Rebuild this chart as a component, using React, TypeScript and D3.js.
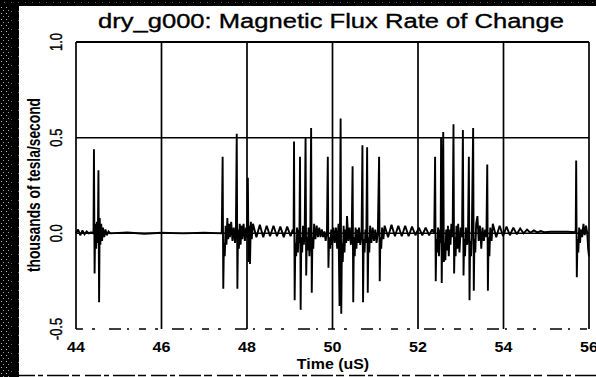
import React from "react";
import * as d3 from "d3";

const chartTitle = "dry_g000: Magnetic Flux Rate of Change";
const xLabel = "Time (uS)";
const yLabel = "thousands of tesla/second";
const xTicks = [44, 46, 48, 50, 52, 54, 56];
const yTicks = [-0.5, 0.0, 0.5, 1.0];
const yTickLabels = ["-0.5", "0.0", "0.5", "1.0"];

// [time (uS), value (thousands of tesla/second)]
const seg1: [number, number][] = [
  [44.0, 0.0], [44.05, 0.02], [44.1, -0.01], [44.15, 0.015], [44.2, -0.005], [44.25, 0.01], [44.3, 0.0], [44.35, 0.005], [44.4, 0.0],
  [44.41, 0.02], [44.42, 0.44], [44.435, -0.21], [44.45, 0.05], [44.47, -0.08], [44.49, 0.06], [44.51, -0.05], [44.525, 0.33], [44.54, -0.36],
  [44.555, 0.08], [44.57, -0.06], [44.59, 0.05], [44.61, -0.04], [44.63, 0.03], [44.66, -0.02], [44.69, 0.02], [44.72, -0.01], [44.76, 0.01], [44.8, 0.0],
  [45.2, 0.004], [45.6, -0.002], [46.0, 0.003], [46.5, 0.0], [47.0, 0.003], [47.4, 0.0],
];
const seg2: [number, number][] = [
  [47.41, 0.01], [47.43, 0.4], [47.445, -0.29], [47.46, -0.05], [47.48, -0.12], [47.5, 0.04], [47.52, -0.06], [47.54, 0.08], [47.56, -0.03],
  [47.58, 0.05], [47.6, -0.02], [47.63, 0.06], [47.66, -0.04], [47.69, 0.03], [47.72, -0.05], [47.74, 0.02], [47.76, 0.52], [47.775, -0.29],
  [47.79, 0.02], [47.81, -0.08], [47.83, 0.05], [47.85, -0.06], [47.87, 0.04], [47.89, -0.03], [47.92, 0.05], [47.95, -0.04], [47.98, 0.03],
  [48.0, -0.02], [48.02, 0.29], [48.035, -0.15], [48.05, 0.04], [48.07, -0.16], [48.09, 0.06], [48.11, -0.03], [48.14, 0.05],
  [48.22, -0.02], [48.3, 0.045], [48.38, -0.02], [48.46, 0.04], [48.54, -0.015], [48.62, 0.04], [48.7, -0.015], [48.78, 0.035], [48.86, -0.02],
  [48.94, 0.035], [49.02, -0.015], [49.07, 0.02],
];
const seg3: [number, number][] = [
  [49.09, 0.0], [49.1, 0.48], [49.115, -0.35], [49.13, -0.05], [49.15, -0.12], [49.17, 0.03], [49.19, -0.1], [49.21, 0.02], [49.225, -0.05],
  [49.24, 0.4], [49.255, -0.4], [49.27, -0.02], [49.29, -0.1], [49.31, 0.04], [49.33, -0.06], [49.35, 0.02], [49.37, 0.5], [49.385, -0.22],
  [49.4, -0.02], [49.42, -0.09], [49.44, 0.03], [49.46, -0.12], [49.48, 0.0], [49.5, 0.55], [49.515, -0.31], [49.53, -0.02], [49.55, -0.08],
  [49.57, 0.05], [49.6, -0.03], [49.63, 0.04], [49.66, -0.02], [49.69, 0.03], [49.72, -0.02], [49.75, 0.02], [49.78, -0.02], [49.81, 0.01],
  [49.84, -0.04], [49.87, 0.01], [49.89, 0.4], [49.905, -0.18], [49.92, -0.02], [49.95, -0.08], [49.97, 0.02], [49.99, -0.06], [50.02, 0.03],
  [50.05, -0.05], [50.08, 0.03], [50.11, -0.08], [50.14, 0.05], [50.165, -0.38], [50.175, 0.02], [50.19, 0.6], [50.205, -0.42], [50.22, -0.05],
  [50.24, -0.15], [50.26, 0.04], [50.28, -0.1], [50.3, 0.02], [50.32, -0.05], [50.34, 0.09], [50.37, -0.04], [50.4, 0.03], [50.43, -0.06],
  [50.45, 0.01], [50.47, 0.35], [50.485, -0.36], [50.5, -0.02], [50.52, -0.12], [50.54, 0.03], [50.56, -0.08], [50.58, 0.02], [50.6, -0.05],
  [50.62, 0.03], [50.65, -0.06], [50.68, 0.0], [50.7, 0.46], [50.715, -0.36], [50.73, -0.03], [50.75, -0.1], [50.77, 0.02], [50.79, -0.05],
  [50.81, 0.45], [50.825, -0.31], [50.84, -0.02], [50.86, -0.1], [50.88, 0.04], [50.91, -0.05], [50.94, 0.03], [50.97, -0.04], [51.0, 0.02],
  [51.03, -0.05], [51.06, 0.0], [51.09, 0.4], [51.105, -0.25], [51.12, -0.02], [51.14, -0.08], [51.16, 0.03], [51.19, -0.03], [51.22, 0.04],
  [51.3, -0.02], [51.38, 0.045], [51.46, -0.015], [51.54, 0.04], [51.62, -0.015], [51.7, 0.04], [51.78, -0.015], [51.86, 0.035], [51.94, -0.01],
  [52.02, 0.03], [52.1, -0.01], [52.18, 0.03], [52.26, -0.01], [52.33, 0.02], [52.38, 0.0],
];
const seg4: [number, number][] = [
  [52.4, 0.4], [52.415, -0.25], [52.43, -0.03], [52.45, -0.1], [52.47, 0.03], [52.49, -0.12], [52.51, 0.02], [52.53, -0.05], [52.54, 0.5],
  [52.555, -0.26], [52.57, 0.05], [52.59, 0.53], [52.605, -0.15], [52.62, -0.05], [52.64, -0.14], [52.66, 0.02], [52.68, -0.09], [52.7, 0.04],
  [52.72, -0.12], [52.74, 0.02], [52.76, -0.06], [52.78, 0.05], [52.81, -0.02], [52.83, 0.57], [52.845, -0.21], [52.86, -0.02], [52.88, -0.12],
  [52.9, 0.04], [52.92, -0.08], [52.94, 0.05], [52.97, -0.1], [53.0, 0.03], [53.03, -0.02], [53.05, 0.54], [53.065, -0.22], [53.08, -0.03],
  [53.1, -0.12], [53.12, 0.03], [53.15, -0.06], [53.17, 0.01], [53.19, 0.4], [53.205, -0.35], [53.22, -0.04], [53.24, -0.12], [53.26, 0.02],
  [53.29, 0.55], [53.305, -0.3], [53.32, -0.03], [53.34, -0.1], [53.36, 0.05], [53.39, 0.09], [53.42, -0.04], [53.45, 0.04], [53.48, -0.08],
  [53.51, 0.03], [53.54, -0.04], [53.57, 0.02], [53.6, -0.02], [53.62, 0.36], [53.635, -0.3], [53.65, -0.02], [53.67, -0.12], [53.69, 0.03],
  [53.72, -0.04], [53.75, 0.05],
  [53.83, -0.02], [53.91, 0.04], [53.99, -0.015], [54.07, 0.035], [54.15, -0.01], [54.23, 0.03], [54.31, -0.005], [54.39, 0.025], [54.47, 0.0],
  [54.55, 0.02], [54.63, 0.003], [54.71, 0.015], [54.79, 0.005], [54.87, 0.012], [54.95, 0.006], [55.1, 0.008], [55.3, 0.008], [55.5, 0.008],
  [55.68, 0.006],
];
const seg5: [number, number][] = [
  [55.69, 0.02], [55.7, 0.38], [55.715, -0.23], [55.73, -0.03], [55.75, -0.1], [55.77, 0.03], [55.79, -0.05], [55.81, 0.02], [55.84, -0.02],
  [55.87, 0.05], [55.9, -0.01], [55.93, 0.04], [55.96, 0.0], [55.98, -0.08], [56.0, -0.12],
];
const fluxTrace = [...seg1, ...seg2, ...seg3, ...seg4, ...seg5];

export default function App() {
  const W = 596, H = 377;
  const L = 76, R = 589, T = 42, B = 329;
  const x = d3.scaleLinear().domain([44, 56]).range([L, R]);
  const y = d3.scaleLinear().domain([-0.5, 1.0]).range([B, T]);
  const line = d3.line<[number, number]>().x((d) => x(d[0])).y((d) => y(d[1]));
  const font = "'Liberation Sans', Arial, Helvetica, sans-serif";

  return (
    <svg width={W} height={H} style={{ position: "absolute", left: 0, top: 0, background: "#fff" }} fontFamily={font}>
      <defs>
        <pattern id="speck" width="5" height="6" patternUnits="userSpaceOnUse">
          <rect width="5" height="6" fill="#000" />
          <rect x="1" y="1" width="1" height="1" fill="#bbb" />
          <rect x="3" y="4" width="1" height="1" fill="#999" />
        </pattern>
        <pattern id="speck2" width="7" height="9" patternUnits="userSpaceOnUse">
          <rect width="7" height="9" fill="#000" />
          <rect x="4" y="2" width="1" height="1" fill="#666" />
        </pattern>
      </defs>
      <rect x={0} y={0} width={W} height={H} fill="#fff" />
      {/* scanned frame */}
      <rect x={0} y={0} width={10} height={H} fill="url(#speck)" />
      <rect x={10} y={0} width={9} height={H} fill="url(#speck2)" />
      <rect x={0} y={0} width={W} height={6} fill="url(#speck2)" />
      <line x1={19} x2={W} y1={375.5} y2={375.5} stroke="#000" strokeWidth={1.5} strokeDasharray="16 3 5 4 22 3 8 5" />

      {/* title */}
      <text x={331} y={28} textAnchor="middle" fontSize={20} textLength={466} lengthAdjust="spacingAndGlyphs" fill="#000" stroke="#000" strokeWidth={0.35}>
        {chartTitle}
      </text>

      {/* grid */}
      {xTicks.map((t) => (
        <line key={"vx" + t} x1={x(t)} x2={x(t)} y1={T} y2={B} stroke="#000" strokeWidth={1.7} />
      ))}
      {yTicks.filter((v) => v > -0.5).map((v) => (
        <line key={"hy" + v} x1={L} x2={R} y1={y(v)} y2={y(v)} stroke="#000" strokeWidth={v === 1 ? 1.9 : 1.5} />
      ))}
      <line x1={L} x2={R} y1={y(-0.5)} y2={y(-0.5)} stroke="#000" strokeWidth={1.4} strokeDasharray="7 9 3 14 12 6 2 10" />

      {/* trace */}
      <path d={line(fluxTrace) || ""} fill="none" stroke="#000" strokeWidth={1.9} strokeLinejoin="miter" strokeMiterlimit={2} />

      {/* y tick labels */}
      {yTicks.map((v, i) => (
        <text key={"yl" + v} transform={`translate(62,${y(v)}) scale(1.3,1) rotate(-90)`} textAnchor="middle" fontSize={13} fill="#000" stroke="#000" strokeWidth={0.3}>
          {yTickLabels[i]}
        </text>
      ))}
      {/* x tick labels */}
      {xTicks.map((t) => (
        <text key={"xl" + t} transform={`translate(${x(t)},352) scale(1.15,1)`} textAnchor="middle" fontSize={14} fontWeight="bold" fill="#000">
          {t}
        </text>
      ))}
      {/* axis titles */}
      <text transform="translate(333,369) scale(1.14,1)" textAnchor="middle" fontSize={14} fontWeight="bold" fill="#000">
        {xLabel}
      </text>
      <text transform="translate(40,185) scale(1.3,1) rotate(-90)" textAnchor="middle" fontSize={13.5} fontWeight="bold" textLength={174} lengthAdjust="spacingAndGlyphs" fill="#000">
        {yLabel}
      </text>
    </svg>
  );
}
